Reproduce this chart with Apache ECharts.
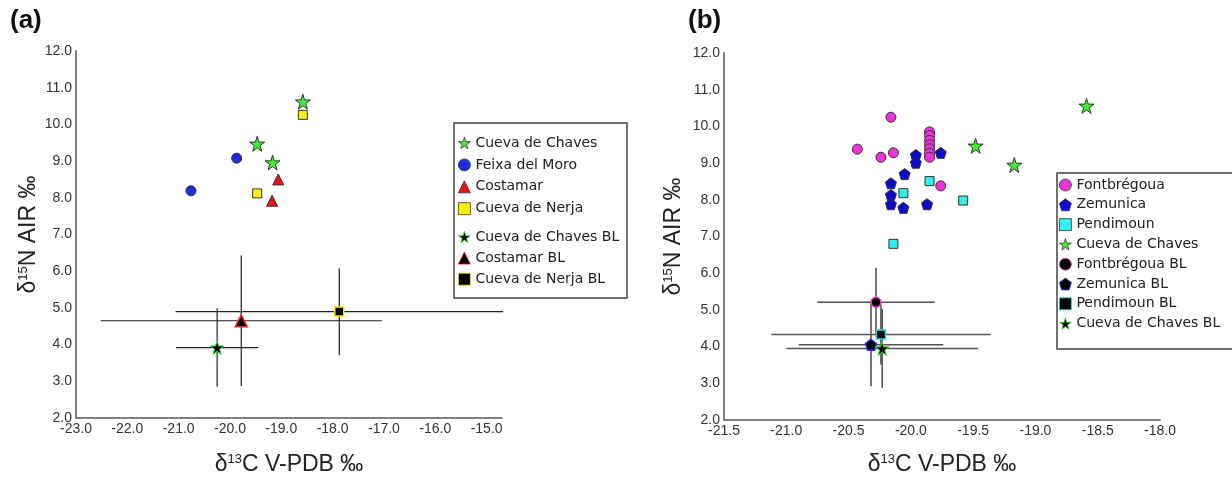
<!DOCTYPE html>
<html>
<head>
<meta charset="utf-8">
<script src="https://cdn.jsdelivr.net/npm/echarts@6/dist/echarts.min.js"></script>
<style>
  html, body { margin: 0; padding: 0; background: #fff; }
  #chart { width: 1232px; height: 481px; }
</style>
</head>
<body>
<div id="chart"></div>
<script>
// ---- panel (a) ----
var chavesA = [[-19.47, 9.47], [-19.17, 8.96], [-18.58, 10.62]];
var feixaMoro = [[-20.76, 8.19], [-19.87, 9.08]];
var costamar = [[-19.06, 8.50], [-19.18, 7.92]];
var nerja = [[-18.58, 10.26], [-19.47, 8.12]];
// baselines: [x, y, x error, y error]
var chavesBLa = [[-20.25, 3.92, 0.80, 1.07]];
var costamarBL = [[-19.78, 4.65, 2.74, 1.78]];
var nerjaBL = [[-17.87, 4.90, 3.19, 1.18]];

// ---- panel (b) ----
var fontbregoua = [[-20.16, 10.25], [-20.43, 9.38], [-20.24, 9.16], [-20.14, 9.28], [-19.76, 8.38],
  [-19.85, 9.85], [-19.85, 9.75], [-19.85, 9.62], [-19.85, 9.50], [-19.85, 9.39], [-19.85, 9.27], [-19.85, 9.16]];
var zemunica = [[-19.96, 9.22], [-19.96, 9.01], [-19.76, 9.28], [-20.05, 8.70], [-20.16, 8.45],
  [-20.16, 8.13], [-20.16, 7.88], [-20.06, 7.78], [-19.87, 7.88]];
var pendimoun = [[-19.85, 8.51], [-20.06, 8.18], [-19.58, 7.98], [-20.14, 6.80]];
var chavesB = [[-19.48, 9.47], [-19.17, 8.95], [-18.59, 10.56]];
var fontbregouaBL = [[-20.28, 5.21, 0.47, 0.94]];
var zemunicaBL = [[-20.32, 4.05, 0.58, 1.13]];
var pendimounBL = [[-20.24, 4.33, 0.88, 0.82]];
var chavesBLb = [[-20.23, 3.95, 0.77, 1.07]];

var legendA1 = ['Cueva de Chaves', 'Feixa del Moro', 'Costamar', 'Cueva de Nerja'];
var legendA2 = ['Cueva de Chaves BL', 'Costamar BL', 'Cueva de Nerja BL'];
var legendB = ['Fontbrégoua', 'Zemunica', 'Pendimoun', 'Cueva de Chaves',
  'Fontbrégoua BL', 'Zemunica BL', 'Pendimoun BL', 'Cueva de Chaves BL'];

var STAR = 'path://M50,0 L61,35 L98,35 L68,57 L79,91 L50,70 L21,91 L32,57 L2,35 L39,35 Z';
var PENTA = 'path://M50,0 L98,36 L80,95 L20,95 L2,36 Z';

// marker look per name: symbol, fill, border
var looks = {
  'Cueva de Chaves': [STAR, '#44ee33', '#333'],
  'Feixa del Moro': ['circle', '#1a2de6', '#333'],
  'Costamar': ['triangle', '#ee1111', '#333'],
  'Cueva de Nerja': ['rect', '#ffee00', '#333'],
  'Cueva de Chaves BL': [STAR, '#000', '#33ee33'],
  'Costamar BL': ['triangle', '#000', '#ff2222'],
  'Cueva de Nerja BL': ['rect', '#000', '#eeee00'],
  'Fontbrégoua': ['circle', '#ee33dd', '#333'],
  'Zemunica': [PENTA, '#0a0ad0', '#333'],
  'Pendimoun': ['rect', '#33eeee', '#333'],
  'Fontbrégoua BL': ['circle', '#000', '#ff33dd'],
  'Zemunica BL': [PENTA, '#000', '#2233ff'],
  'Pendimoun BL': ['rect', '#000', '#22dddd']
};

var chart = echarts.init(document.getElementById('chart'));

function oneDecimal(v) {
  if (Math.abs(v * 2 - Math.round(v * 2)) > 1e-6) return '';
  return v.toFixed(1);
}

function errorBars(color, width) {
  return function (params, api) {
    var x = api.value(0), y = api.value(1), ex = api.value(2), ey = api.value(3);
    var l = api.coord([x - ex, y]), r = api.coord([x + ex, y]);
    var t = api.coord([x, y + ey]), b = api.coord([x, y - ey]);
    var st = { stroke: color, lineWidth: width };
    return {
      type: 'group',
      children: [
        { type: 'line', shape: { x1: l[0], y1: l[1], x2: r[0], y2: r[1] }, style: st },
        { type: 'line', shape: { x1: t[0], y1: t[1], x2: b[0], y2: b[1] }, style: st }
      ]
    };
  };
}

var axisLabel = { color: '#333', fontSize: 14, fontFamily: 'Liberation Sans' };
var nameRich = {
  d: { fontSize: 23, fontFamily: 'Liberation Sans', color: '#222' },
  s: { fontSize: 13, fontFamily: 'Liberation Sans', color: '#222', padding: [0, 0, 10, 0] }
};

function xAxis(idx, min, max, interval, gap) {
  return {
    type: 'value', gridIndex: idx, min: min, max: max, interval: interval,
    axisLine: { show: true, lineStyle: { color: '#808080', width: 2 } },
    axisTick: { show: false }, splitLine: { show: false },
    axisLabel: Object.assign({ margin: 4, formatter: oneDecimal }, axisLabel),
    name: '{d|δ}{s|13}{d|C V-PDB ‰}', nameLocation: 'middle', nameGap: gap,
    nameTextStyle: { rich: nameRich }
  };
}
function yAxis(idx, gap) {
  return {
    type: 'value', gridIndex: idx, min: 2, max: 12, interval: 1,
    axisLine: { show: true, lineStyle: { color: '#808080', width: 2 } },
    axisTick: { show: false }, splitLine: { show: false },
    axisLabel: Object.assign({ margin: 4, formatter: function (v) { return v.toFixed(1); } }, axisLabel),
    name: '{d|δ}{s|15}{d|N AIR ‰}', nameLocation: 'middle', nameGap: gap, nameRotate: 90,
    nameTextStyle: { rich: nameRich }
  };
}

function pts(name, data, idx, size, bw) {
  var lk = looks[name];
  return {
    name: name, type: 'scatter', xAxisIndex: idx, yAxisIndex: idx, data: data,
    symbol: lk[0], symbolSize: size, z: 5,
    itemStyle: { color: lk[1], borderColor: lk[2], borderWidth: bw, opacity: 1 },
    emphasis: { disabled: true }
  };
}

function legendItems(names) {
  return names.map(function (n) {
    var lk = looks[n];
    return { name: n, icon: lk[0], itemStyle: { color: lk[1], borderColor: lk[2], borderWidth: 0.8 } };
  });
}

var legendText = { fontSize: 14, fontFamily: 'DejaVu Sans', color: '#222' };

var option = {
  animation: false,
  backgroundColor: '#fff',
  grid: [
    { left: 76, top: 51, width: 426, height: 367 },
    { left: 724, top: 53, width: 436, height: 367 }
  ],
  xAxis: [xAxis(0, -23, -14.7, 1, 35), xAxis(1, -21.5, -18, 0.5, 33)],
  yAxis: [yAxis(0, 36), yAxis(1, 39)],
  legend: [
    { data: legendItems(legendA1), orient: 'vertical', left: 458, top: 136, itemWidth: 12, itemHeight: 12,
      itemGap: 7.9, textStyle: legendText, padding: 0, selectedMode: false },
    { data: legendItems(legendA2), orient: 'vertical', left: 458, top: 230, itemWidth: 12, itemHeight: 12,
      itemGap: 7.1, textStyle: legendText, padding: 0, selectedMode: false },
    { data: legendItems(legendB), orient: 'vertical', left: 1059, top: 178, itemWidth: 12, itemHeight: 12,
      itemGap: 5.8, textStyle: legendText, padding: 0, selectedMode: false }
  ],
  graphic: [
    { type: 'text', left: 10, top: 8, style: { text: '(a)', fontSize: 26, fontWeight: 'bold', fontFamily: 'Liberation Sans', fill: '#111' } },
    { type: 'text', left: 688, top: 8, style: { text: '(b)', fontSize: 26, fontWeight: 'bold', fontFamily: 'Liberation Sans', fill: '#111' } },
    { type: 'rect', shape: { x: 454, y: 123, width: 173, height: 175 }, style: { fill: 'none', stroke: '#444', lineWidth: 1.5 } },
    { type: 'rect', shape: { x: 1057, y: 173, width: 190, height: 176 }, style: { fill: 'none', stroke: '#444', lineWidth: 1.5 } }
  ],
  series: [
    { name: 'errA', type: 'custom', xAxisIndex: 0, yAxisIndex: 0, clip: false, z: 2,
      renderItem: errorBars('#222', 1.2), data: chavesBLa.concat(costamarBL, nerjaBL) },
    { name: 'errB', type: 'custom', xAxisIndex: 1, yAxisIndex: 1, clip: false, z: 2,
      renderItem: errorBars('#555', 1.6), data: fontbregouaBL.concat(zemunicaBL, pendimounBL, chavesBLb) },

    pts('Cueva de Chaves', chavesA, 0, 15, 1),
    pts('Feixa del Moro', feixaMoro, 0, 10, 1),
    pts('Costamar', costamar, 0, 11, 1),
    pts('Cueva de Nerja', nerja, 0, 9, 1),
    pts('Cueva de Chaves BL', chavesBLa, 0, 14, 1),
    pts('Costamar BL', costamarBL, 0, 12, 1.5),
    pts('Cueva de Nerja BL', nerjaBL, 0, 9, 1.5),

    pts('Fontbrégoua', fontbregoua, 1, 10, 1),
    pts('Zemunica', zemunica, 1, 11, 1),
    pts('Pendimoun', pendimoun, 1, 9, 1),
    pts('Cueva de Chaves', chavesB, 1, 15, 1),
    pts('Fontbrégoua BL', fontbregouaBL, 1, 10, 1.5),
    pts('Zemunica BL', zemunicaBL, 1, 11, 1.5),
    pts('Pendimoun BL', pendimounBL, 1, 9, 1.5),
    pts('Cueva de Chaves BL', chavesBLb, 1, 14, 1)
  ]
};

chart.setOption(option);
</script>
</body>
</html>
